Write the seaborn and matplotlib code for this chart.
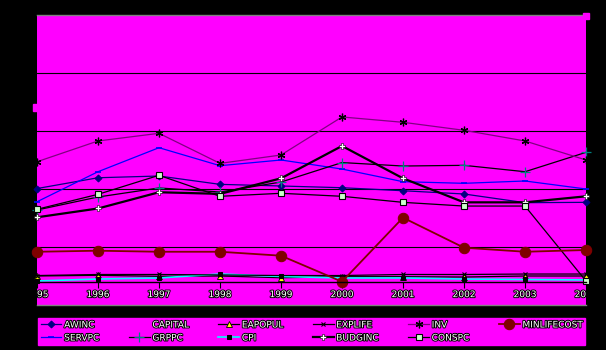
import matplotlib
matplotlib.use("Agg")
import matplotlib.pyplot as plt
import matplotlib.patheffects as pe
from matplotlib.patches import Rectangle
import seaborn as sns

# ---- data -------------------------------------------------------------
years = [1995, 1996, 1997, 1998, 1999, 2000, 2001, 2002, 2003, 2004]
year_labels = [str(y) for y in years]

awinc = [100.4, 109.7, 111.2, 104.0, 102.6, 101.1, 98.5, 95.7, 88.2, 88.5]
capital = [22.0, 22.5, 23.0, 23.0, 22.5, 22.0, 22.0, 22.5, 22.5, 22.0]
eapopul = [25.0, 25.6, 24.7, 25.0, 23.5, 24.4, 24.4, 24.1, 25.0, 25.0]
explife = [25.4, 26.3, 26.3, 25.9, 25.4, 25.4, 26.3, 26.3, 26.7, 26.7]
inv = [123.5, 141.4, 148.0, 122.1, 129.3, 162.1, 157.5, 150.6, 141.4, 125.0]
minlifecost = [45.9, 46.8, 45.9, 45.9, 42.5, 20.1, 75.3, 49.4, 45.9, 47.4]
servpc = [89.0, 114.9, 135.6, 120.1, 125.0, 117.2, 106.3, 104.9, 106.9, 100.0]
grppc = [81.9, 93.1, 100.9, 97.4, 106.0, 122.8, 119.8, 120.4, 114.9, 131.6]
cpi = [20.7, 22.4, 23.3, 26.7, 24.6, 23.3, 23.3, 22.4, 22.0, 21.6]
budginc = [75.6, 83.2, 97.2, 95.8, 109.2, 137.1, 109.2, 88.5, 88.5, 93.7]
conspc = [82.5, 95.4, 111.8, 93.7, 96.3, 93.7, 88.5, 85.3, 85.3, 20.7]

MAGENTA = "#FF00FF"

# name, values, line colour, line width, marker options
series = [
    ("CAPITAL", capital, MAGENTA, 0.8, dict(marker=None)),
    ("AWINC", awinc, "#000080", 0.9, dict(marker="D", ms=3.5, mfc="#000080", mec="#000080")),
    ("SERVPC", servpc, "#0000FF", 0.9, dict(marker="_", ms=5, mew=1.2, mec="#0000FF")),
    ("GRPPC", grppc, "black", 0.9, dict(marker="+", ms=6.5, mew=0.9, mec="#008080")),
    ("EAPOPUL", eapopul, "black", 0.9, dict(marker="^", ms=4.5, mfc="#FFFF00", mec="black", mew=0.6)),
    ("CPI", cpi, "#00FFFF", 1.2, dict(marker="s", ms=2.5, mfc="black", mec="black")),
    ("EXPLIFE", explife, "black", 0.9, dict(marker="x", ms=3.5, mew=0.8, mec="black")),
    ("BUDGINC", budginc, "black", 1.6, dict(marker="P", ms=4.5, mfc="white", mec="black", mew=0.4)),
    ("INV", inv, "#800080", 0.9, dict(marker=(6, 2, 0), ms=5.5, mew=0.9, mec="black")),
    ("CONSPC", conspc, "black", 0.9, dict(marker="s", ms=5, mfc="#CCFFCC", mec="black", mew=0.8)),
    ("MINLIFECOST", minlifecost, "#800000", 1.3, dict(marker="o", ms=7.5, mfc="#800000", mec="#800000")),
]

# ---- figure -----------------------------------------------------------
fig = plt.figure(figsize=(6.06, 3.5), dpi=100, facecolor="black")
ax = fig.add_axes([37 / 606, 45 / 350, 549 / 606, 290 / 350])
ax.set_facecolor(MAGENTA)

handles = {}
for name, vals, col, lw, mk in series:
    sns.lineplot(x=years, y=vals, ax=ax, color=col, lw=lw, label=name,
                 clip_on=False, **mk)
    handles[name] = ax.get_lines()[-1]
if ax.get_legend() is not None:
    ax.get_legend().remove()

ax.set_xlim(1995, 2004)
ax.set_ylim(0, 250)
ax.set_xlabel("")
ax.set_ylabel("")

# horizontal gridlines, no value labels
ax.set_yticks([50, 100, 150, 200])
ax.yaxis.grid(True, color="black", lw=0.8)
ax.set_axisbelow(True)
ax.tick_params(axis="y", left=False, labelleft=False)

# category axis crossing inside the plot area
for side in ("left", "right"):
    ax.spines[side].set_visible(False)
ax.spines["top"].set_color("#808080")
ax.spines["top"].set_linewidth(1.0)
ax.spines["bottom"].set_position(("data", 20))
ax.spines["bottom"].set_color("black")
ax.spines["bottom"].set_linewidth(1.0)
ax.axhline(0, color="#808080", lw=1.0, clip_on=False)

ax.set_xticks(years)
ax.set_xticklabels(year_labels)
ax.tick_params(axis="x", direction="out", length=4, width=0.8, color="black",
               pad=2, labelsize=6.5, labelcolor="white")
for lbl in ax.get_xticklabels():
    lbl.set_path_effects([pe.withStroke(linewidth=1.4, foreground="black")])
    lbl.set_clip_box(ax.bbox)

# small selection-handle squares
fig.patches.append(Rectangle((33 / 606, 1 - 111 / 350), 4 / 606, 7 / 350,
                             transform=fig.transFigure, color=MAGENTA))
fig.patches.append(Rectangle((583 / 606, 1 - 19 / 350), 6 / 606, 6 / 350,
                             transform=fig.transFigure, color=MAGENTA))

# legend below the plot, column-major order
order = ["AWINC", "SERVPC", "CAPITAL", "GRPPC", "EAPOPUL", "CPI",
         "EXPLIFE", "BUDGINC", "INV", "CONSPC", "MINLIFECOST"]
leg = fig.legend([handles[n] for n in order], order, ncol=6, mode="expand",
                 loc="center",
                 bbox_to_anchor=(38 / 606, 1 - 345 / 350, 547 / 606, 27 / 350),
                 fontsize=6.5, handlelength=2.3, handletextpad=0.3,
                 labelspacing=0.45, borderpad=0.3, borderaxespad=0,
                 fancybox=False, framealpha=1, facecolor=MAGENTA,
                 edgecolor=MAGENTA, columnspacing=0.5)
for t in leg.get_texts():
    t.set_color("white")
    t.set_path_effects([pe.withStroke(linewidth=1.4, foreground="black")])

fig.savefig("out.png", dpi=100, facecolor="black")
